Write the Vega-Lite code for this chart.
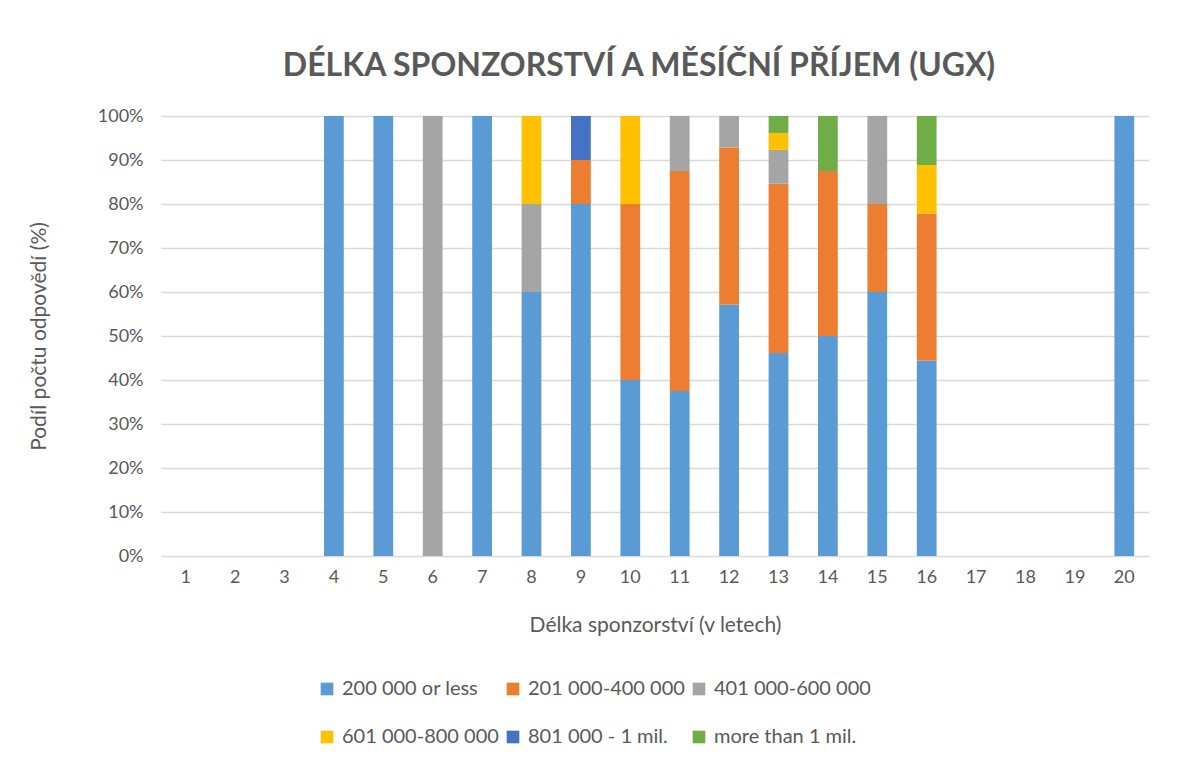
{
  "$schema": "https://vega.github.io/schema/vega-lite/v6.json",
  "autosize": "none",
  "width": 988,
  "height": 440,
  "padding": {"left": 161, "top": 116, "right": 29, "bottom": 206},
  "background": "white",
  "title": {
    "text": "DÉLKA SPONZORSTVÍ A MĚSÍČNÍ PŘÍJEM (UGX)",
    "font": "Lato",
    "fontSize": 32,
    "fontWeight": "bold",
    "color": "#595959",
    "offset": 24,
    "dx": -16
  },
  "data": {
    "values": [
      {"roky": 4, "kat": "200 000  or less", "o": 1, "podil": 1},
      {"roky": 5, "kat": "200 000  or less", "o": 1, "podil": 1},
      {"roky": 6, "kat": "401 000-600 000", "o": 3, "podil": 1},
      {"roky": 7, "kat": "200 000  or less", "o": 1, "podil": 1},
      {"roky": 8, "kat": "200 000  or less", "o": 1, "podil": 0.6},
      {"roky": 8, "kat": "401 000-600 000", "o": 3, "podil": 0.2},
      {"roky": 8, "kat": "601 000-800 000", "o": 4, "podil": 0.2},
      {"roky": 9, "kat": "200 000  or less", "o": 1, "podil": 0.8},
      {"roky": 9, "kat": "201 000-400 000", "o": 2, "podil": 0.1},
      {"roky": 9, "kat": "801 000 - 1 mil.", "o": 5, "podil": 0.1},
      {"roky": 10, "kat": "200 000  or less", "o": 1, "podil": 0.4},
      {"roky": 10, "kat": "201 000-400 000", "o": 2, "podil": 0.4},
      {"roky": 10, "kat": "601 000-800 000", "o": 4, "podil": 0.2},
      {"roky": 11, "kat": "200 000  or less", "o": 1, "podil": 0.375},
      {"roky": 11, "kat": "201 000-400 000", "o": 2, "podil": 0.5},
      {"roky": 11, "kat": "401 000-600 000", "o": 3, "podil": 0.125},
      {"roky": 12, "kat": "200 000  or less", "o": 1, "podil": 0.5714},
      {"roky": 12, "kat": "201 000-400 000", "o": 2, "podil": 0.3571},
      {"roky": 12, "kat": "401 000-600 000", "o": 3, "podil": 0.0715},
      {"roky": 13, "kat": "200 000  or less", "o": 1, "podil": 0.4615},
      {"roky": 13, "kat": "201 000-400 000", "o": 2, "podil": 0.3846},
      {"roky": 13, "kat": "401 000-600 000", "o": 3, "podil": 0.0769},
      {"roky": 13, "kat": "601 000-800 000", "o": 4, "podil": 0.0385},
      {"roky": 13, "kat": "more than 1 mil.", "o": 6, "podil": 0.0385},
      {"roky": 14, "kat": "200 000  or less", "o": 1, "podil": 0.5},
      {"roky": 14, "kat": "201 000-400 000", "o": 2, "podil": 0.375},
      {"roky": 14, "kat": "more than 1 mil.", "o": 6, "podil": 0.125},
      {"roky": 15, "kat": "200 000  or less", "o": 1, "podil": 0.6},
      {"roky": 15, "kat": "201 000-400 000", "o": 2, "podil": 0.2},
      {"roky": 15, "kat": "401 000-600 000", "o": 3, "podil": 0.2},
      {"roky": 16, "kat": "200 000  or less", "o": 1, "podil": 0.4444},
      {"roky": 16, "kat": "201 000-400 000", "o": 2, "podil": 0.3333},
      {"roky": 16, "kat": "601 000-800 000", "o": 4, "podil": 0.1111},
      {"roky": 16, "kat": "more than 1 mil.", "o": 6, "podil": 0.1112},
      {"roky": 20, "kat": "200 000  or less", "o": 1, "podil": 1}
    ]
  },
  "mark": {"type": "bar"},
  "encoding": {
    "x": {
      "field": "roky",
      "type": "ordinal",
      "scale": {"domain": [1,2,3,4,5,6,7,8,9,10,11,12,13,14,15,16,17,18,19,20], "paddingInner": 0.6, "paddingOuter": 0.3},
      "axis": {
        "title": "Délka sponzorství (v letech)",
        "labelAngle": 0,
        "labelFont": "Lato",
        "labelFontSize": 18,
        "labelColor": "#595959",
        "labelPadding": 12,
        "ticks": false,
        "domainColor": "#d9d9d9",
        "titleFont": "Lato",
        "titleFontSize": 21,
        "titleFontWeight": "normal",
        "titleColor": "#595959",
        "titlePadding": 28
      }
    },
    "y": {
      "field": "podil",
      "type": "quantitative",
      "stack": "zero",
      "scale": {"domain": [0, 1]},
      "axis": {
        "title": "Podíl počtu odpovědí (%)",
        "format": ".0%",
        "values": [0,0.1,0.2,0.3,0.4,0.5,0.6,0.7,0.8,0.9,1],
        "labelFont": "Lato",
        "labelFontSize": 18,
        "labelColor": "#595959",
        "labelPadding": 18,
        "ticks": false,
        "domain": false,
        "gridColor": "#d9d9d9",
        "gridWidth": 1.3,
        "titleFont": "Lato",
        "titleFontSize": 21,
        "titleFontWeight": "normal",
        "titleColor": "#595959",
        "titlePadding": 48
      }
    },
    "color": {
      "field": "kat",
      "type": "nominal",
      "scale": {
        "domain": ["200 000  or less", "201 000-400 000", "401 000-600 000", "601 000-800 000", "801 000 - 1 mil.", "more than 1 mil."],
        "range": ["#5B9BD5", "#ED7D31", "#A5A5A5", "#FFC000", "#4472C4", "#70AD47"]
      },
      "legend": {
        "title": null,
        "orient": "none",
        "legendX": 156,
        "legendY": 563,
        "direction": "horizontal",
        "columns": 3,
        "symbolType": "square",
        "symbolSize": 160,
        "symbolStrokeWidth": 0,
        "labelFont": "Lato",
        "labelFontSize": 20,
        "labelColor": "#595959",
        "labelLimit": 300,
        "rowPadding": 28,
        "columnPadding": 4,
        "symbolOffset": 0,
        "labelOffset": 5
      }
    },
    "order": {"field": "o", "type": "quantitative", "sort": "ascending"}
  },
  "config": {
    "view": {"stroke": null},
    "axis": {"gridColor": "#d9d9d9"}
  }
}
